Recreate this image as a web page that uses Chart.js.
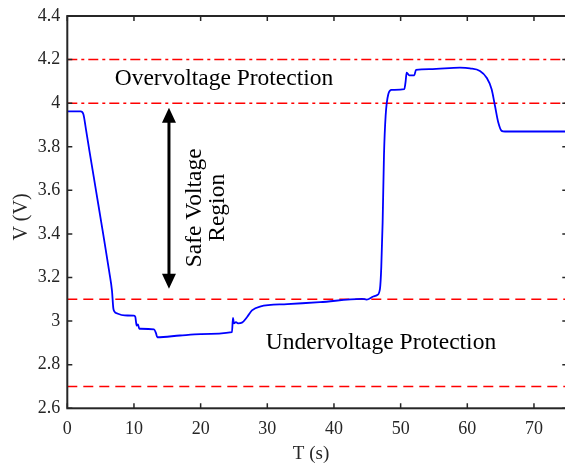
<!DOCTYPE html>
<html><head><meta charset="utf-8">
<script src="https://cdn.jsdelivr.net/npm/chart.js@4"></script>
<style>
html,body{margin:0;padding:0;background:#fff;overflow:hidden;}
#wrap{width:568px;height:464px;position:relative;}
</style></head><body>
<div id="wrap"><canvas id="c"></canvas></div>
<script>
// ---- data ----
const timeS = [0, 2.0, 2.4, 2.8, 3.3, 4.3, 5.3, 6.3, 6.7, 6.9, 7.05, 7.6, 8.6, 10.0, 10.2, 10.4, 10.6, 10.8, 11.0, 13.0, 13.3, 13.5, 16.9, 20, 24.7, 24.85, 25.0, 25.3, 25.6, 26.2, 27.0, 27.7, 28.9, 33, 37.9, 44.2, 44.9, 45.9, 46.5, 46.9, 47.1, 47.3, 47.5, 47.75, 48.15, 48.65, 50.55, 50.75, 50.9, 51.3, 52.05, 52.3, 54.4, 58.9, 60.4, 61.9, 62.9, 63.65, 64.15, 64.65, 65.15, 65.65, 75];
const voltage = [3.962, 3.962, 3.95, 3.88, 3.785, 3.60, 3.415, 3.225, 3.14, 3.06, 3.045, 3.034, 3.026, 3.025, 3.02, 2.98, 2.985, 2.965, 2.965, 2.962, 2.945, 2.926, 2.934, 2.94, 2.949, 3.015, 2.99, 2.995, 2.99, 2.993, 3.02, 3.049, 3.067, 3.078, 3.087, 3.102, 3.099, 3.113, 3.12, 3.148, 3.25, 3.453, 3.759, 3.942, 4.041, 4.061, 4.064, 4.10, 4.14, 4.128, 4.128, 4.153, 4.156, 4.163, 4.16, 4.148, 4.117, 4.064, 3.988, 3.911, 3.873, 3.87, 3.87];
const xTicks = [0, 10, 20, 30, 40, 50, 60, 70];
const yTicks = [2.6, 2.8, 3.0, 3.2, 3.4, 3.6, 3.8, 4.0, 4.2, 4.4];
const xRange = [0, 75];
const yRange = [2.6, 4.4];
const overLimits = [4.2, 4.0];
const underLimits = [3.1, 2.7];
const xTitle = 'T (s)';
const yTitle = 'V (V)';
const overText = 'Overvoltage Protection';
const underText = 'Undervoltage Protection';
const safeText = ['Safe Voltage', 'Region'];
// annotation anchors (data units)
const overTextAt = {x: 23.5, y: 4.111};
const underTextAt = {x: 47.05, y: 2.902};
const safeTextAt = {x: [19.15, 22.6], y: 3.52};
const arrowAt = {x: 15.25, top: 3.979, bottom: 3.149};

const FONT = '"Liberation Serif", "Times New Roman", serif';

const limitSet = (v, dash) => ({
  data: xRange.map(x => ({x, y: v})),
  borderColor: '#ff0000', borderWidth: 1.5, borderDash: dash,
  pointRadius: 0, fill: false, tension: 0
});

const datasets = [
  {data: timeS.map((t, i) => ({x: t, y: voltage[i]})), borderColor: '#0000ff', borderWidth: 1.8,
   pointRadius: 0, fill: false, cubicInterpolationMode: 'monotone'},
  ...overLimits.map(v => limitSet(v, [10, 4, 3, 4])),
  ...underLimits.map(v => limitSet(v, [10, 6]))
];

const decor = {
  id: 'decor',
  afterDatasetsDraw(chart) {
    const {ctx, chartArea: a, scales: {x, y}} = chart;
    ctx.save();
    // frame
    ctx.strokeStyle = '#262626'; ctx.lineWidth = 2;
    ctx.strokeRect(a.left, a.top, a.right - a.left, a.bottom - a.top);
    ctx.lineWidth = 1.5;
    ctx.beginPath();
    xTicks.forEach(t => {
      const px = x.getPixelForValue(t);
      ctx.moveTo(px, a.bottom); ctx.lineTo(px, a.bottom - 5);
      ctx.moveTo(px, a.top); ctx.lineTo(px, a.top + 5);
    });
    yTicks.forEach(v => {
      const py = y.getPixelForValue(v);
      ctx.moveTo(a.left, py); ctx.lineTo(a.left + 5, py);
      ctx.moveTo(a.right, py); ctx.lineTo(a.right - 5, py);
    });
    ctx.stroke();
    // texts
    ctx.fillStyle = '#000';
    ctx.textAlign = 'center'; ctx.textBaseline = 'middle';
    ctx.font = '23.5px ' + FONT;
    ctx.fillText(overText, x.getPixelForValue(overTextAt.x), y.getPixelForValue(overTextAt.y));
    ctx.fillText(underText, x.getPixelForValue(underTextAt.x), y.getPixelForValue(underTextAt.y));
    safeText.forEach((s, i) => {
      ctx.save();
      ctx.translate(x.getPixelForValue(safeTextAt.x[i]), y.getPixelForValue(safeTextAt.y));
      ctx.rotate(-Math.PI / 2);
      ctx.fillText(s, 0, 0);
      ctx.restore();
    });
    // arrow
    const ax = x.getPixelForValue(arrowAt.x);
    const at = y.getPixelForValue(arrowAt.top);
    const ab = y.getPixelForValue(arrowAt.bottom);
    const hl = 15, hw = 7;
    ctx.strokeStyle = '#000'; ctx.lineWidth = 3;
    ctx.beginPath(); ctx.moveTo(ax, at + hl - 2); ctx.lineTo(ax, ab - hl + 2); ctx.stroke();
    ctx.beginPath();
    ctx.moveTo(ax, at); ctx.lineTo(ax - hw, at + hl); ctx.lineTo(ax + hw, at + hl); ctx.closePath();
    ctx.moveTo(ax, ab); ctx.lineTo(ax - hw, ab - hl); ctx.lineTo(ax + hw, ab - hl); ctx.closePath();
    ctx.fill();
    // axis titles
    ctx.fillStyle = '#262626';
    ctx.font = '19px ' + FONT;
    ctx.fillText(xTitle, 311, 454);
    ctx.save();
    ctx.translate(21.5, 217);
    ctx.rotate(-Math.PI / 2);
    ctx.font = '20px ' + FONT;
    ctx.fillText(yTitle, 0, 0);
    ctx.restore();
    ctx.restore();
  }
};

new Chart(document.getElementById('c'), {
  type: 'line',
  data: {datasets},
  options: {
    responsive: true, maintainAspectRatio: false, animation: false,
    layout: {padding: {top: 15, right: 0.7, left: 0, bottom: 0}},
    plugins: {legend: {display: false}, tooltip: {enabled: false}},
    scales: {
      x: {
        type: 'linear', min: xRange[0], max: xRange[1],
        afterBuildTicks: s => { s.ticks = xTicks.map(v => ({value: v})); },
        afterFit: s => { s.height = 55.7; },
        grid: {display: false, drawTicks: false}, border: {display: false},
        ticks: {padding: 12, color: '#262626', font: {family: FONT, size: 18, lineHeight: 1}, maxRotation: 0,
                callback: v => String(v)}
      },
      y: {
        type: 'linear', min: yRange[0], max: yRange[1],
        afterBuildTicks: s => { s.ticks = yTicks.map(v => ({value: v})); },
        afterFit: s => { s.width = 67.3; },
        grid: {display: false, drawTicks: false}, border: {display: false},
        ticks: {padding: 7, color: '#262626', font: {family: FONT, size: 18, lineHeight: 1},
                callback: v => String(Number(v.toFixed(1)))}
      }
    }
  },
  plugins: [decor]
});
</script>
</body></html>
